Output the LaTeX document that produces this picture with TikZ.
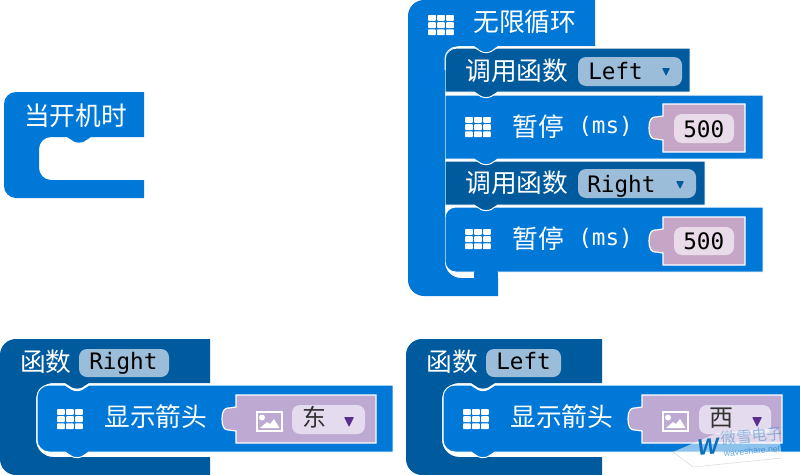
\documentclass[tikz,border=0pt]{standalone}
\usepackage{fontspec}
\newfontfamily\cjk{Noto Sans CJK SC}
\newfontfamily\mono{DejaVu Sans Mono}
\newfontfamily\logo{Liberation Sans}
\definecolor{blockblue}{HTML}{0078D7}
\definecolor{blockdark}{HTML}{005A9E}
\definecolor{fieldblue}{HTML}{9BBDD9}
\definecolor{numpurple}{HTML}{C5A6C6}
\definecolor{numpale}{HTML}{E9DBE9}
\definecolor{imgpurple}{HTML}{BDA9D2}
\definecolor{imgpale}{HTML}{E4DBEE}
\definecolor{arrowpurple}{HTML}{5C2D91}
\definecolor{markblue}{HTML}{0A6FC0}
\tikzset{
  blockfill/.style={fill=blockblue},
  childblock/.style={fill=blockblue, draw=white, line width=0.75pt},
  callblock/.style={fill=blockdark, draw=white, line width=0.75pt},
  darkblock/.style={fill=blockdark},
  valueblock/.style={draw=white, line width=0.9pt},
  cjklabel/.style={anchor=base west, inner sep=0pt, text=white, font=\cjk\fontsize{19.3}{20}\selectfont},
  msg/.style={anchor=base west, inner sep=0pt, text=white, font=\mono\fontsize{17}{20}\selectfont},
  fieldtext/.style={anchor=base west, inner sep=0pt, text=black, font=\mono\fontsize{17}{20}\selectfont},
  arrowtext/.style={anchor=base, inner sep=0pt, text=black!80, font=\cjk\fontsize{18}{20}\selectfont},
  fieldbox/.style={fill=fieldblue, rounded corners=6pt},
  pickdown/.style={rounded corners=0.6pt}
}
% notch shapes, run along a block edge
\newcommand{\bumpleft}{-- ++(-7,4.5) .. controls +(-3,1.5) and +(3,1.5) .. ++(-10,0) -- ++(-7,-4.5)}
\newcommand{\bumpright}{-- ++(7,4.5) .. controls +(3,1.5) and +(-3,1.5) .. ++(10,0) -- ++(7,-4.5)}
\newcommand{\gridicon}[2]{%
  \foreach \row in {0,1,2}
    \foreach \col in {0,1,2}
      \fill[white, rounded corners=0.6pt] (#1+\col*9,#2+\row*7.2) rectangle ++(7.8,5.8);
}
\newcommand{\valueshape}[4]{%
  \draw[valueblock, fill=#4, shift={(#1,#2)}] (0,0) -- (#3,0) -- (#3,48) -- (0,48) -- (0,36)
    .. controls (-3,36) and (-4,35) .. (-8,35) .. controls (-12,35) and (-14,31) .. (-14,24)
    .. controls (-14,17) and (-12,13) .. (-8,13) .. controls (-4,13) and (-3,12) .. (0,12) -- cycle;
}
\newcommand{\imageicon}[2]{%
  \draw[white, line width=1.1pt, shift={(#1,#2)}] (0,0) rectangle (25,19);
  \fill[white, shift={(#1,#2)}] (5,5.5) circle (3);
  \fill[white, shift={(#1,#2)}] (3,16) -- (10,10) -- (13,12) -- (17,7) -- (22.5,16) -- cycle;
}
\begin{document}
\begin{tikzpicture}[x=0.75pt, y=-0.75pt]
  \useasboundingbox (0,0) rectangle (800,475);

  % start block
  \fill[blockfill] (144,92) [rounded corners=9pt] -- (4,92) -- (4,198) [sharp corners] -- (144,198) -- (144,180)
    [rounded corners=9pt] -- (39,180) -- (39,137) [sharp corners] -- (67,137) \bumpright -- (144,137) -- cycle;
  \node[cjklabel] (startlabel) at (24,125) {当开机时};

  % forever children, last one first
  \draw[childblock] (763,207) -- (763,272) -- (498,272) \bumpleft [rounded corners=8pt] -- (445,272) -- (445,207) [sharp corners] -- cycle;
  \draw[callblock] (705,161) -- (705,205) -- (498,205) \bumpleft -- (445,205) -- (445,161) -- cycle;
  \draw[childblock] (763,95) -- (763,159) -- (498,159) \bumpleft -- (445,159) -- (445,95) -- cycle;
  \draw[callblock] (690,48) -- (690,92) -- (498,92) \bumpleft -- (445,92) [rounded corners=9pt] -- (445,48) [sharp corners] -- cycle;
  \fill[blockfill] (595,0) [rounded corners=12pt] -- (408,0) -- (408,296) [sharp corners] -- (498,296) -- (498,278)
    [rounded corners=12pt] -- (445,278) -- (445,46) [sharp corners] -- (474,46) \bumpright -- (595,46) -- cycle;
  \fill[blockfill] (474,272) rectangle (498,279);
  \draw[white, line width=0.75pt, rounded corners=9pt] (474,47) -- (445,47) -- (445,70);
  \draw[white, line width=0.75pt] (474,47) \bumpright -- (595,47);

  \gridicon{428}{15}
  \node[cjklabel] (foreverlabel) at (473,31) {无限循环};

  \node[cjklabel] (callone) at (465,80) {调用函数};
  \fill[fieldbox] (578,57) rectangle (682,86);
  \node[fieldtext] (calloneval) at (588,79) {Left};
  \fill[blockdark, pickdown] (662,68) -- (670,68) -- (666,76) -- cycle;

  \gridicon{465}{117}
  \node[cjklabel] (pauseone) at (512,136) {暂停};
  \node[msg] (pauseoneunit) at (578,133) {(ms)};
  \valueshape{663}{104}{82}{numpurple}
  \fill[numpale, rounded corners=6pt] (674,114) rectangle (734,143);
  \node[fieldtext] (pauseoneval) at (683,137) {500};

  \node[cjklabel] (calltwo) at (465,192) {调用函数};
  \fill[fieldbox] (578,169) rectangle (696,198);
  \node[fieldtext] (calltwoval) at (587,192) {Right};
  \fill[blockdark, pickdown] (676,181) -- (684,181) -- (680,189) -- cycle;

  \gridicon{465}{229}
  \node[cjklabel] (pausetwo) at (512,248) {暂停};
  \node[msg] (pausetwounit) at (578,245) {(ms)};
  \valueshape{663}{217}{82}{numpurple}
  \fill[numpale, rounded corners=6pt] (674,227) rectangle (734,255);
  \node[fieldtext] (pausetwoval) at (683,249) {500};

  % function Right
  \fill[darkblock] (210,339) -- (210,383) -- (89,383) \bumpleft [rounded corners=13pt] -- (36,383) -- (36,457) [sharp corners] -- (210,457) -- (210,475)
    [rounded corners=12pt] -- (0,475) -- (0,339) -- (100,339) [sharp corners] -- cycle;
  \draw[childblock] (393,385) -- (393,452) -- (89,452) \bumpleft [rounded corners=9pt] -- (37,452) -- (37,385) [sharp corners] -- (65,385) \bumpright -- cycle;
  \node[cjklabel] (funcright) at (20,371) {函数};
  \fill[fieldbox] (79,349) rectangle (169,377);
  \node[fieldtext] (funcrightname) at (89,369) {Right};
  \gridicon{57}{409}
  \node[cjklabel] (showright) at (104,426) {显示箭头};
  \valueshape{236}{395}{140}{imgpurple}
  \imageicon{257}{412}
  \fill[imgpale, rounded corners=6pt] (292,405) rectangle (365,434);
  \node[arrowtext] (eastlabel) at (314,426) {东};
  \fill[arrowpurple, pickdown] (344,417) -- (354,417) -- (349,427) -- cycle;

  % function Left
  \fill[darkblock] (602,339) -- (602,383) -- (495,383) \bumpleft [rounded corners=13pt] -- (442,383) -- (442,457) [sharp corners] -- (602,457) -- (602,475)
    [rounded corners=12pt] -- (406,475) -- (406,339) -- (500,339) [sharp corners] -- cycle;
  \draw[childblock] (802,385) -- (802,452) -- (495,452) \bumpleft [rounded corners=9pt] -- (443,452) -- (443,385) [sharp corners] -- (471,385) \bumpright -- cycle;
  \node[cjklabel] (funcleft) at (426,371) {函数};
  \fill[fieldbox] (486,349) rectangle (561,377);
  \node[fieldtext] (funcleftname) at (496,369) {Left};
  \gridicon{463}{409}
  \node[cjklabel] (showleft) at (510,426) {显示箭头};
  \valueshape{642}{395}{140}{imgpurple}
  \imageicon{663}{412}
  \fill[imgpale, rounded corners=6pt] (699,405) rectangle (771,434);
  \node[arrowtext] (westlabel) at (721,426) {西};
  \fill[arrowpurple, pickdown] (752,417) -- (762,417) -- (757,427) -- cycle;

  % watermark
  \fill[white, opacity=0.55] (673,452) -- (717,433) -- (778,428) -- (782,458) -- (693,467) -- cycle;
  \draw[black!15, line width=0.4pt] (673,452) -- (693,467) -- (782,458);
  \node[anchor=center, inner sep=0pt, rotate=5, text=markblue, font=\logo\bfseries\itshape\fontsize{17}{17}\selectfont] (marklogo) at (708,447) {W};
  \node[anchor=center, inner sep=0pt, rotate=5, text=markblue, opacity=0.4, font=\cjk\fontsize{11.5}{12}\selectfont] (markcn) at (752,436) {微雪电子};
  \node[anchor=center, inner sep=0pt, rotate=5, text=markblue, opacity=0.6, font=\logo\fontsize{6.5}{7}\selectfont] (marken) at (752,451) {waveshare.net};
\end{tikzpicture}
\end{document}
